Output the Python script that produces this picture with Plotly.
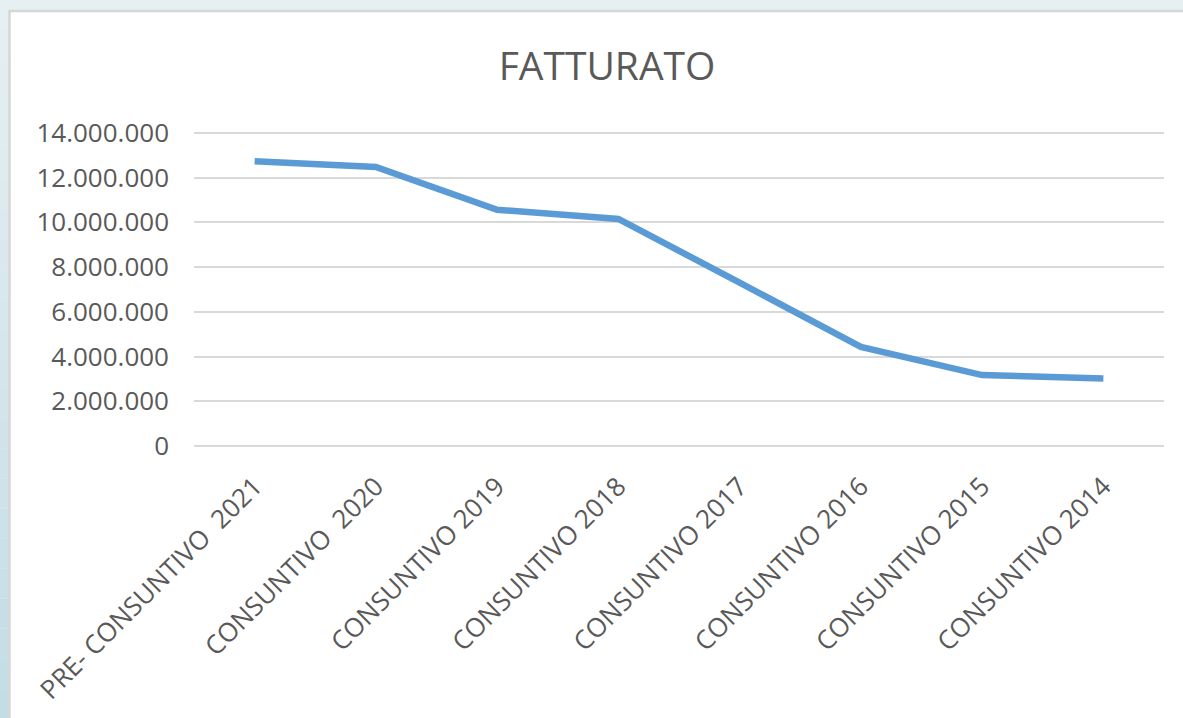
import plotly.graph_objects as go

categories = [
    "PRE- CONSUNTIVO  2021",
    "CONSUNTIVO  2020",
    "CONSUNTIVO 2019",
    "CONSUNTIVO 2018",
    "CONSUNTIVO 2017",
    "CONSUNTIVO 2016",
    "CONSUNTIVO 2015",
    "CONSUNTIVO 2014",
]
fatturato = [12730000, 12470000, 10560000, 10150000, 7300000, 4430000, 3170000, 3020000]
y_ticks = [0, 2000000, 4000000, 6000000, 8000000, 10000000, 12000000, 14000000]
title_text = "FATTURATO"

W, H = 1183, 718
L, R, T, B = 194, 19, 131, 272
pw, ph = W - L - R, H - T - B


def px_x(px):
    return (px - L) / pw


def px_y(py):
    return (H - B - py) / ph


FONT = "Open Sans, Liberation Sans, sans-serif"
GREY = "#595959"

fig = go.Figure()
fig.add_trace(go.Scatter(
    x=categories, y=fatturato, mode="lines",
    line=dict(color="#5b9bd5", width=6.5),
    hoverinfo="x+y",
))

shapes = []
# left gradient strip of the outer background
bands = 24
c_top = (230, 239, 242)
c_bot = (196, 220, 228)
for i in range(bands):
    t = i / (bands - 1)
    col = tuple(round(c_top[k] + (c_bot[k] - c_top[k]) * t) for k in range(3))
    y0p = i * H / bands
    y1p = (i + 1) * H / bands
    shapes.append(dict(
        type="rect", xref="paper", yref="paper", layer="below",
        x0=px_x(0), x1=px_x(9), y0=px_y(y1p), y1=px_y(y0p),
        fillcolor="rgb(%d,%d,%d)" % col, line=dict(width=0),
    ))
# white chart area with grey border
shapes.append(dict(
    type="rect", xref="paper", yref="paper", layer="below",
    x0=px_x(9.5), x1=px_x(1195), y0=px_y(730), y1=px_y(11),
    fillcolor="white", line=dict(color="#d6d6d6", width=2.5),
))

fig.update_layout(
    width=W, height=H,
    margin=dict(l=L, r=R, t=T, b=B, autoexpand=False),
    paper_bgcolor="#e6eff2",
    plot_bgcolor="rgba(0,0,0,0)",
    separators=",.",
    showlegend=False,
    shapes=shapes,
    title=dict(
        text=title_text, x=607 / W, xanchor="center", xref="container",
        y=1 - 66 / H, yanchor="middle", yref="container",
        font=dict(family=FONT, size=39, color=GREY),
    ),
    font=dict(family=FONT, color=GREY),
)
fig.update_xaxes(
    type="category", range=[-0.5, 7.5], tickangle=-45,
    showgrid=False, zeroline=False, showline=False, ticks="",
    ticklabelstandoff=19,
    tickfont=dict(family=FONT, size=26, color=GREY),
)
fig.update_yaxes(
    range=[0, 14080000], tickvals=y_ticks, tickformat=",.0f",
    showgrid=True, gridcolor="#d9d9d9", gridwidth=2,
    zeroline=True, zerolinecolor="#d9d9d9", zerolinewidth=2,
    showline=False, ticks="", ticklabelstandoff=24,
    tickfont=dict(family=FONT, size=26, color=GREY),
)

fig.write_html(
    "out.html",
    config={"displayModeBar": False},
    post_script="document.body.style.margin='0';document.body.style.overflow='hidden';",
)
